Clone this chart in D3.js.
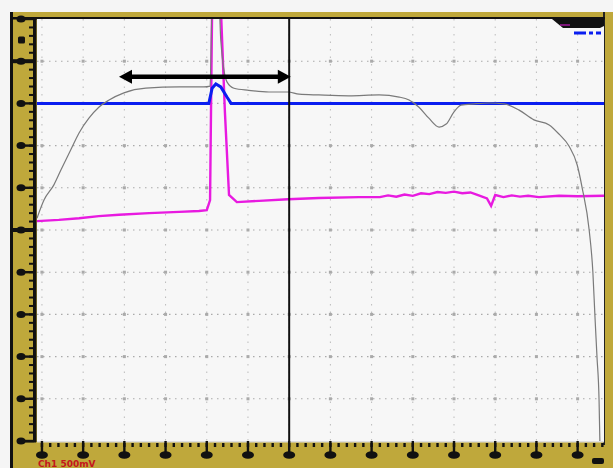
<!DOCTYPE html>
<html>
<head>
<meta charset="utf-8">
<script src="https://cdn.jsdelivr.net/npm/d3@7"></script>
<style>
  body { margin: 0; background: #f5f5f5; }
  svg { display: block; }
</style>
</head>
<body>
<script>
var width = 613
var height = 468

// traces, x in divisions, y in divisions
var grayX = [-0.12, 0.05, 0.29, 0.46, 0.70, 0.90, 1.14, 1.38, 1.63, 1.99, 2.52, 3.33, 3.93, 4.08, 4.13, 4.30, 4.34, 4.49, 4.66, 5.02, 5.51, 5.97, 6.24, 6.72, 7.45, 8.18, 8.67, 8.91, 9.15, 9.39, 9.64, 9.81, 10.0, 10.17, 10.49, 10.85, 11.21, 11.58, 11.94, 12.31, 12.55, 12.79, 12.99, 13.11, 13.28, 13.37, 13.42, 13.47, 13.52, 13.54]
var grayY = [5.28, 5.71, 6.07, 6.42, 6.90, 7.30, 7.65, 7.91, 8.08, 8.25, 8.36, 8.39, 8.39, 8.41, 10.3, 10.3, 9.50, 8.51, 8.36, 8.31, 8.27, 8.27, 8.22, 8.20, 8.18, 8.20, 8.15, 8.08, 7.91, 7.65, 7.44, 7.51, 7.80, 7.96, 7.99, 8.01, 7.99, 7.84, 7.61, 7.49, 7.27, 6.99, 6.54, 6.00, 5.00, 4.00, 2.96, 1.99, 0.97, 0]

var magX = [-0.12, 0.41, 0.90, 1.38, 1.87, 2.60, 3.33, 3.81, 4.00, 4.08, 4.13, 4.34, 4.44, 4.54, 4.73, 5.27, 5.97, 6.72, 7.69, 8.2, 8.4, 8.6, 8.8, 9.0, 9.2, 9.4, 9.6, 9.8, 10.0, 10.2, 10.4, 10.6, 10.8, 10.9, 11.0, 11.2, 11.4, 11.6, 11.8, 12.06, 12.55, 13.0, 13.64]
var magY = [5.21, 5.24, 5.28, 5.33, 5.36, 5.40, 5.43, 5.45, 5.47, 5.71, 10.3, 10.3, 7.8, 5.83, 5.66, 5.69, 5.73, 5.76, 5.78, 5.78, 5.82, 5.79, 5.84, 5.81, 5.87, 5.85, 5.90, 5.88, 5.91, 5.87, 5.89, 5.82, 5.75, 5.57, 5.83, 5.78, 5.82, 5.79, 5.81, 5.78, 5.81, 5.80, 5.81]

var blueX = [-0.12, 4.05, 4.13, 4.22, 4.34, 4.49, 4.59, 13.64]
var blueY = [8.0, 8.0, 8.36, 8.46, 8.39, 8.15, 8.0, 8.0]

var xTicks = d3.range(0, 14)
var yTicks = d3.range(0, 11)
var cursorX = 6
var arrowFrom = 1.87, arrowTo = 6.04, arrowY = 8.63
var chanLabel = "Ch1 500mV"

var gold = "#bfa83b"
var pL = 37, pR = 604, pT = 19, pB = 441

var x = d3.scaleLinear().domain([-0.12, 13.64]).range([pL, pR])
var y = d3.scaleLinear().domain([0, 10]).range([pB, pT])

var svg = d3.select("body").append("svg")
    .attr("width", width)
    .attr("height", height)

// frame
svg.append("rect").attr("x", 10).attr("y", 12).attr("width", 603).attr("height", 456).attr("fill", gold)
svg.append("rect").attr("x", 10).attr("y", 12).attr("width", 3).attr("height", 456).attr("fill", "#111")
svg.append("rect").attr("x", 603).attr("y", 12).attr("width", 2).attr("height", 433).attr("fill", "#222")
svg.append("rect").attr("x", 10).attr("y", 17).attr("width", 595).attr("height", 2.5).attr("fill", "#111")
svg.append("rect").attr("x", pL).attr("y", pT).attr("width", pR - pL).attr("height", pB - pT).attr("fill", "#f7f7f7")
svg.append("rect").attr("x", 33).attr("y", pT).attr("width", 3.5).attr("height", pB - pT + 1).attr("fill", "#111")
svg.append("rect").attr("x", 22).attr("y", pB - 1).attr("width", 14).attr("height", 2.5).attr("fill", "#111")
svg.append("rect").attr("x", pL).attr("y", pB).attr("width", pR - pL).attr("height", 1.5).attr("fill", "#ddd")

// grid
var grid = svg.append("g")
grid.selectAll(".gv").data(xTicks).enter().append("line")
    .attr("x1", d => x(d)).attr("x2", d => x(d))
    .attr("y1", pT).attr("y2", pB)
    .attr("stroke", "#bbb").attr("stroke-width", 1)
    .attr("stroke-dasharray", "1.5,6")
grid.selectAll(".gh").data(yTicks.slice(1, 10)).enter().append("line")
    .attr("x1", pL).attr("x2", pR)
    .attr("y1", d => y(d)).attr("y2", d => y(d))
    .attr("stroke", "#aaa").attr("stroke-width", 1.1)
    .attr("stroke-dasharray", "1.5,4.5")
var cross = []
xTicks.forEach(a => yTicks.slice(1, 10).forEach(b => cross.push([a, b])))
grid.selectAll(".gc").data(cross).enter().append("rect")
    .attr("x", d => x(d[0]) - 1.5).attr("y", d => y(d[1]) - 1.5)
    .attr("width", 3).attr("height", 3)
    .attr("fill", "#aaa")

// left ruler
var minorY = d3.range(0, 10.01, 0.2)
svg.selectAll(".ly").data(minorY).enter().append("rect")
    .attr("x", 29).attr("y", d => y(d) - 1)
    .attr("width", 5).attr("height", 2)
    .attr("fill", "#111")
svg.selectAll(".lk").data(yTicks).enter().append("rect")
    .attr("x", 20).attr("y", d => y(d) - 1.2)
    .attr("width", 14).attr("height", 2.4)
    .attr("fill", "#111")
svg.selectAll(".le").data(yTicks).enter().append("ellipse")
    .attr("cx", 21).attr("cy", d => y(d))
    .attr("rx", 4.5).attr("ry", 3.5)
    .attr("fill", "#111")
// level markers
svg.selectAll(".lm").data([9, 5]).enter().append("rect")
    .attr("x", 12).attr("y", d => y(d) - 2)
    .attr("width", 22).attr("height", 4)
    .attr("fill", "#111")
svg.append("rect").attr("x", 18).attr("y", y(9.5) - 3.5).attr("width", 7).attr("height", 7).attr("rx", 1.5).attr("fill", "#111")

// bottom ruler
var minorX = d3.range(-0.0, 13.61, 0.2)
svg.selectAll(".bx").data(minorX).enter().append("rect")
    .attr("x", d => x(d) - 1.2).attr("y", pB + 2)
    .attr("width", 2.4).attr("height", 4)
    .attr("fill", "#111")
svg.selectAll(".bs").data(xTicks).enter().append("rect")
    .attr("x", d => x(d) - 1.2).attr("y", pB)
    .attr("width", 2.4).attr("height", 12)
    .attr("fill", "#111")
svg.selectAll(".be").data(xTicks).enter().append("ellipse")
    .attr("cx", d => x(d)).attr("cy", pB + 14)
    .attr("rx", 6).attr("ry", 3.8)
    .attr("fill", "#111")
svg.append("rect").attr("x", 592).attr("y", 458).attr("width", 12).attr("height", 6).attr("rx", 2).attr("fill", "#111")
svg.append("text").attr("x", 38).attr("y", 467)
    .attr("font-family", "DejaVu Sans").attr("font-size", 9).attr("font-weight", "bold")
    .attr("fill", "#c4161c").text(chanLabel)

// traces
svg.append("clipPath").attr("id", "clip").append("rect")
    .attr("x", pL).attr("y", pT).attr("width", pR - pL).attr("height", pB - pT)
var plot = svg.append("g").attr("clip-path", "url(#clip)")

function pts(xs, ys) { return xs.map((v, i) => [v, ys[i]]) }
var line = d3.line().x(d => x(d[0])).y(d => y(d[1]))

plot.append("path").datum(pts(magX, magY))
    .attr("d", line).attr("fill", "none")
    .attr("stroke", "#e81ae0").attr("stroke-width", 2.4)
plot.append("path").datum(pts(blueX, blueY))
    .attr("d", line).attr("fill", "none")
    .attr("stroke", "#0a1ef0").attr("stroke-width", 3)
plot.append("path").datum(pts(grayX, grayY))
    .attr("d", line.curve(d3.curveMonotoneX)).attr("fill", "none")
    .attr("stroke", "#7a7a7a").attr("stroke-width", 1.2)

// cursor
plot.append("line")
    .attr("x1", x(cursorX)).attr("x2", x(cursorX))
    .attr("y1", pT).attr("y2", pB)
    .attr("stroke", "#111").attr("stroke-width", 2)

// double arrow
var ax1 = x(arrowFrom), ax2 = x(arrowTo), ay = y(arrowY)
plot.append("line")
    .attr("x1", ax1 + 8).attr("x2", ax2 - 8)
    .attr("y1", ay).attr("y2", ay)
    .attr("stroke", "#000").attr("stroke-width", 4.5)
plot.append("path")
    .attr("d", `M${ax1},${ay} L${ax1 + 13},${ay - 7} L${ax1 + 13},${ay + 7} Z`)
    .attr("fill", "#000")
plot.append("path")
    .attr("d", `M${ax2},${ay} L${ax2 - 13},${ay - 7} L${ax2 - 13},${ay + 7} Z`)
    .attr("fill", "#000")

// top-right readout box
svg.append("path")
    .attr("d", "M552,19 L604,19 L604,26 L600,28 L563,28 Z")
    .attr("fill", "#111")
svg.append("line").attr("x1", 560).attr("x2", 570).attr("y1", 25).attr("y2", 25)
    .attr("stroke", "#e81ae0").attr("stroke-width", 1)
svg.append("line").attr("x1", 574).attr("x2", 601).attr("y1", 33).attr("y2", 33)
    .attr("stroke", "#0a1ef0").attr("stroke-width", 3).attr("stroke-dasharray", "12,3,4,3")
</script>
</body>
</html>
